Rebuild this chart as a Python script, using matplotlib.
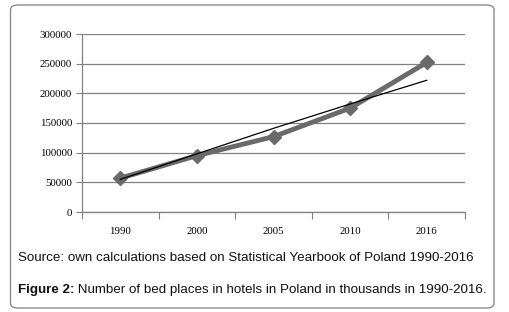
import matplotlib
matplotlib.use("Agg")
import matplotlib.pyplot as plt
from matplotlib.patches import FancyBboxPatch

years = ["1990", "2000", "2005", "2010", "2016"]
beds = [57000, 95000, 127000, 175000, 252000]
trend = [55000, 98000, 141000, 182000, 222000]
yticks = [0, 50000, 100000, 150000, 200000, 250000, 300000]
source_text = "Source: own calculations based on Statistical Yearbook of Poland 1990-2016"
fig_label = "Figure 2:"
fig_text = " Number of bed places in hotels in Poland in thousands in 1990-2016."

W, H = 510, 312
fig = plt.figure(figsize=(W / 100, H / 100), dpi=100)
fig.patch.set_facecolor("white")

# rounded border
border = FancyBboxPatch((10.5 / W, 4 / H), (494 - 10.5) / W, (307 - 4) / H,
                        boxstyle="round,pad=0,rounding_size=0.015",
                        transform=fig.transFigure, facecolor="none",
                        edgecolor="#8c8c8c", linewidth=1.0)
fig.patches.append(border)

ax = fig.add_axes([82 / W, 1 - 212 / H, (465 - 82) / W, (212 - 34) / H])
x = list(range(len(years)))
ax.plot(x, beds, color="#6a6a6a", linewidth=3.5, marker="D", markersize=7,
        markerfacecolor="#6a6a6a", markeredgecolor="#6a6a6a", zorder=3)
ax.plot(x, trend, color="black", linewidth=0.9, zorder=4)

ax.set_xlim(-0.5, len(years) - 0.5)
ax.set_ylim(0, 300000)
ax.set_yticks(yticks)
ax.set_yticklabels([str(v) for v in yticks], fontfamily="Liberation Serif", fontsize=7.8)
ax.set_xticks([i - 0.5 for i in range(len(years) + 1)])
ax.set_xticklabels([])
ax.set_xticks(x, minor=True)
ax.set_xticklabels(years, minor=True, fontfamily="Liberation Serif", fontsize=7.8)
ax.tick_params(axis="x", which="minor", length=0, pad=11)
ax.tick_params(axis="x", which="major", length=5, color="#808080", direction="out")
ax.tick_params(axis="y", length=4, color="#808080", direction="out", pad=3)
ax.grid(axis="y", color="#808080", linewidth=0.9)
ax.set_axisbelow(True)
for s in ["top", "right"]:
    ax.spines[s].set_visible(False)
for s in ["left", "bottom"]:
    ax.spines[s].set_color("#808080")
    ax.spines[s].set_linewidth(0.9)

fig.text(18 / W, 1 - 258 / H, source_text, fontfamily="Liberation Sans",
         fontsize=9.6, va="center", ha="left", color="#111111")
t = fig.text(18 / W, 1 - 290 / H, fig_label, fontfamily="Liberation Sans",
             fontsize=9.6, fontweight="bold", va="center", ha="left", color="#111111")
fig.canvas.draw()
bb = t.get_window_extent()
fig.text(bb.x1 / W, 1 - 290 / H, fig_text, fontfamily="Liberation Sans",
         fontsize=9.6, va="center", ha="left", color="#111111")

fig.savefig("out.png", dpi=100)
